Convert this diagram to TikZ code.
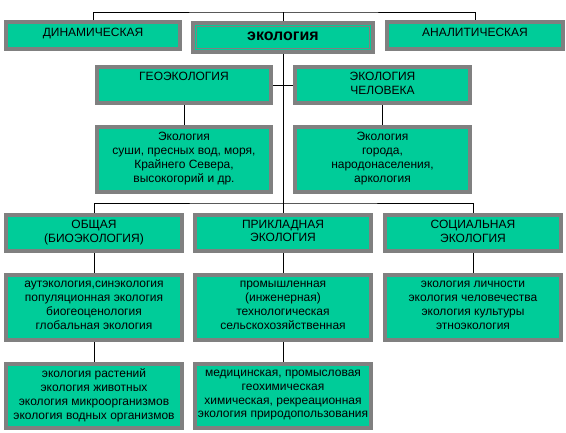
\documentclass[tikz,border=0pt]{standalone}
\usepackage{fontspec}
\setmainfont{Liberation Sans}
\definecolor{boxfill}{HTML}{00CC99}
\definecolor{boxline}{HTML}{808080}
\newcommand\ecobox[6]{%
  \node[ecoboxstyle, minimum width={#4-#2-4}, minimum height={#5-#3-4}]
    (#1) at ({(#2+#4)/2},{(#3+#5)/2}) {#6};}
\begin{document}
\begin{tikzpicture}[x=1pt,y=-1pt,
  ecoboxstyle/.style={draw=boxline, fill=boxfill, line width=4pt, inner sep=0pt,
    outer sep=2pt, align=center, font=\fontsize{12}{13.8}\selectfont,
    execute at begin node=\strut, execute at end node=\strut},
  conn/.style={draw=black, line width=1pt}]
\useasboundingbox (0,0) rectangle (566,432);
% top row
\ecobox{dyn}{4}{20}{182}{51}{\raisebox{1.5pt}{ДИНАМИЧЕСКАЯ}}
\ecobox{eco}{191}{21}{375}{54}{\fontsize{16}{18}\selectfont\bfseries экология}
\ecobox{anal}{385}{20}{565}{51}{\raisebox{1.5pt}{АНАЛИТИЧЕСКАЯ}}
\draw[boxline, line width=1pt] ([xshift=5.5pt,yshift=-5.5pt]eco.north west) rectangle ([xshift=-5.5pt,yshift=5.5pt]eco.south east);
% second row
\ecobox{geo}{95}{65}{273}{105}{ГЕОЭКОЛОГИЯ\\\mbox{}}
\ecobox{hum}{293}{65}{472}{105}{ЭКОЛОГИЯ\\ЧЕЛОВЕКА}
\ecobox{geosub}{95}{125}{273}{194}{Экология\\суши, пресных вод, моря,\\Крайнего Севера,\\высокогорий и др.}
\ecobox{humsub}{293}{125}{472}{194}{Экология\\города,\\народонаселения,\\аркология}
% lower part
\ecobox{gen}{4}{213}{184}{253}{ОБЩАЯ\\(БИОЭКОЛОГИЯ)}
\ecobox{app}{193}{213}{373}{253}{ПРИКЛАДНАЯ\\ЭКОЛОГИЯ}
\ecobox{soc}{383}{213}{563}{253}{СОЦИАЛЬНАЯ\\ЭКОЛОГИЯ}
\ecobox{genB}{4}{273}{184}{342}{аутэкология,синэкология\\популяционная экология\\биогеоценология\\глобальная экология}
\ecobox{appB}{193}{273}{373}{342}{промышленная\\(инженерная)\\технологическая\\сельскохозяйственная}
\ecobox{socB}{383}{273}{563}{342}{экология личности\\экология человечества\\экология культуры\\этноэкология}
\ecobox{genC}{4}{362}{184}{430}{экология растений\\экология животных\\экология микроорганизмов\\экология водных организмов}
\ecobox{appC}{193}{362}{373}{430}{медицинская, промысловая\\геохимическая\\химическая, рекреационная\\экология природопользования}
% connectors
\coordinate (top) at (eco.north |- 0,12);
\coordinate (mid) at (eco.south |- 0,203);
\draw[conn] (dyn.north) |- (top) -| (anal.north);
\draw[conn] (eco.north) -- (top);
\draw[conn] (eco.south) -- (mid);
\draw[conn] (geo.east) -- (hum.west);
\draw[conn] (geo.south) -- (geosub.north);
\draw[conn] (hum.south) -- (humsub.north);
\draw[conn] (gen.north) |- (mid) -| (soc.north);
\draw[conn] (mid) -- (app.north);
\draw[conn] (gen.south) -- (genB.north);
\draw[conn] (genB.south) -- (genC.north);
\draw[conn] (app.south) -- (appB.north);
\draw[conn] (appB.south) -- (appC.north);
\draw[conn] (soc.south) -- (socB.north);
\end{tikzpicture}
\end{document}
